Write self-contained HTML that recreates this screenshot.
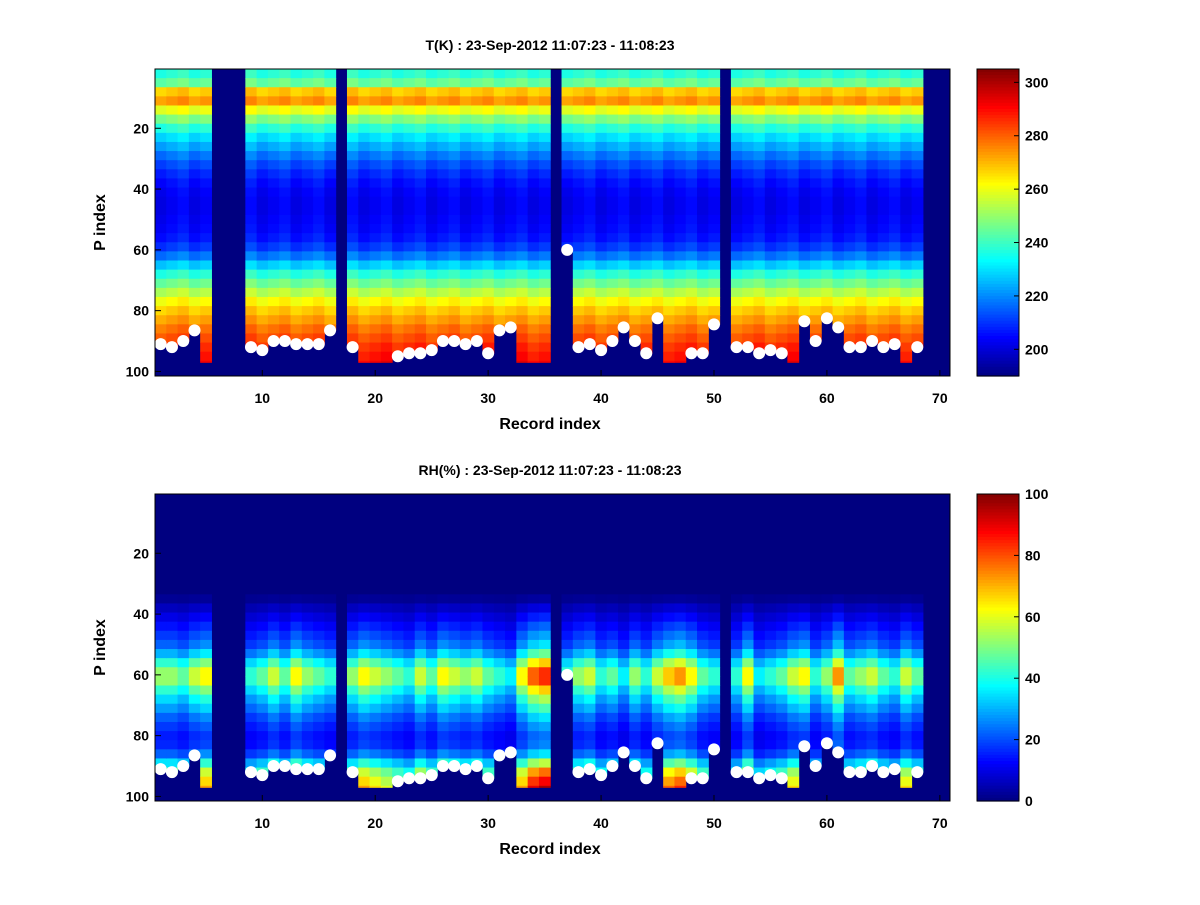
<!DOCTYPE html>
<html><head><meta charset="utf-8"><style>
body{margin:0;background:#fff;font-family:"Liberation Sans",sans-serif;}
svg text{font-family:"Liberation Sans",sans-serif;font-weight:bold;}
</style></head><body>
<svg id="fig" width="1200" height="900" xmlns="http://www.w3.org/2000/svg"></svg>
<script>
// ---- data ----
const records = Array.from({length:70},(_,i)=>i+1);
const missing = [6,7,8,17,36,51,69,70];
// surface P index (white dots); null = no dot, data to 97
const surface = [91,92,90,86.5,null,null,null,null,92,93,90,90,91,91,91,86.5,null,92,null,null,null,95,94,94,93,90,90,91,90,94,86.5,85.5,null,null,null,null,60,92,91,93,90,85.5,90,94,82.5,null,null,94,94,84.5,null,92,92,94,93,94,null,83.5,90,82.5,85.5,92,92,90,92,91,null,92,null,null];
const binTops = [0.5,3.5,6.5,9.5,12.5,15.5,18.5,21.5,24.5,27.5,30.5,33.5,36.5,39.5,42.5,45.5,48.5,51.5,54.5,57.5,60.5,63.5,66.5,69.5,72.5,75.5,78.5,81.5,84.5,87.5,90.5,93.5,96.5,99.5];
const tProfile = [238,245,268,274,260,248,238,230,224,218,213,209,206,204,203,203,204,205,207,211,218,228,238,246,254,262,268,273,278,282,286,289,292,294];
const rhProfile = [0,0,0,0,0,0,0,0,0,0,0,2,6,10,14,18,22,30,42,52,52,42,34,28,22,18,15,16,22,35,48,55,60,60];
const rhFactor = [1.0,1.0,0.9,1.1,1.2,1,1,1,0.8,0.9,1.1,0.9,1.2,1.0,0.9,0.8,1,1.0,1.2,1.1,1.0,0.9,0.8,1.1,0.9,1.2,1.1,1.0,1.1,0.9,0.8,0.7,1.2,1.5,1.6,1,0.8,1.0,1.1,0.8,0.9,0.7,1.0,0.8,1.1,1.3,1.4,1.2,0.9,0.8,1,0.8,1.2,0.7,0.8,0.9,1.1,1.2,0.8,1.0,1.4,0.9,1.0,1.1,0.9,0.8,1.1,0.9,1,1.0];
const xTicks = [10,20,30,40,50,60,70];
const yTicks = [20,40,60,80,100];
const tTicks = [200,220,240,260,280,300];
const rhTicks = [0,20,40,60,80,100];

const NS="http://www.w3.org/2000/svg", svg=document.getElementById('fig');
function el(t,a,p){const e=document.createElementNS(NS,t);for(const k in a)e.setAttribute(k,a[k]);(p||svg).appendChild(e);return e;}
function jet(v){v=Math.max(0,Math.min(1,v));
 const r=Math.max(0,Math.min(1,1.5-Math.abs(4*v-3))),g=Math.max(0,Math.min(1,1.5-Math.abs(4*v-2))),b=Math.max(0,Math.min(1,1.5-Math.abs(4*v-1)));
 return `rgb(${Math.round(r*255)},${Math.round(g*255)},${Math.round(b*255)})`;}

function panel(top,title,cmin,cmax,valFn,cTicks,name){
 const L=155,R=950,T=top,B=top+307;
 const xs=x=>L+(x-0.5)/(70.9-0.5)*(R-L), ys=p=>T+(p-0.5)/(101.5-0.5)*(B-T);
 const g=el('g',{});
 el('rect',{x:L,y:T,width:R-L,height:B-T,fill:jet(0)},g);
 records.forEach((r,ci)=>{
  if(missing.includes(r))return;
  const surf=surface[ci]==null?97:surface[ci];
  binTops.forEach((bt,bi)=>{
   const bb=bi+1<binTops.length?binTops[bi+1]:101.5; if(bt>=surf)return; const end=Math.min(bb,surf);
   const v=(valFn(ci,bi)-cmin)/(cmax-cmin);
   const c=el('rect',{x:xs(r-0.5),y:ys(bt),width:xs(r+0.5)-xs(r-0.5)+0.5,height:ys(end)-ys(bt)+0.5,fill:jet(v)},g);
   
  });
 });
 records.forEach((r,ci)=>{ if(surface[ci]==null)return;
  const d=el('circle',{cx:xs(r),cy:ys(surface[ci]),r:6,fill:'#fff'},g);
  });
 el('rect',{x:L,y:T,width:R-L,height:B-T,fill:'none',stroke:'#000'},g);
 xTicks.forEach(t=>{const x=xs(t);el('line',{x1:x,x2:x,y1:B,y2:B-6,stroke:'#000'},g);
  const tx=el('text',{x:x,y:B+27,'text-anchor':'middle','font-size':14},g);tx.textContent=t;});
 yTicks.forEach(t=>{const y=ys(t);el('line',{x1:L,x2:L+6,y1:y,y2:y,stroke:'#000'},g);
  const tx=el('text',{x:L-6,y:y+5,'text-anchor':'end','font-size':14},g);tx.textContent=t;});
 const ti=el('text',{x:550,y:T-19,'text-anchor':'middle','font-size':14},g);ti.textContent=title;
 const xl=el('text',{x:550,y:B+53,'text-anchor':'middle','font-size':16},g);xl.textContent='Record index';
 const yl=el('text',{x:105,y:(T+B)/2,'text-anchor':'middle','font-size':16,transform:`rotate(-90 105 ${(T+B)/2})`},g);yl.textContent='P index';
 const CL=977,CR=1019;
 for(let i=0;i<100;i++){const y0=T+(B-T)*i/100;el('rect',{x:CL,y:y0,width:CR-CL,height:(B-T)/100+0.6,fill:jet(1-(i+0.5)/100)},g);}
 el('rect',{x:CL,y:T,width:CR-CL,height:B-T,fill:'none',stroke:'#000'},g);
 cTicks.forEach(t=>{const y=B-(t-cmin)/(cmax-cmin)*(B-T);el('line',{x1:CR,x2:CR-5,y1:y,y2:y,stroke:'#000'},g);
  const tx=el('text',{x:CR+6,y:y+5,'font-size':14},g);tx.textContent=t;});
}
panel(69,'T(K) : 23-Sep-2012 11:07:23 - 11:08:23',190,305,(ci,bi)=>tProfile[bi]+((ci%3)-1)*2,tTicks,'temperature');
panel(494,'RH(%) : 23-Sep-2012 11:07:23 - 11:08:23',0,100,(ci,bi)=>rhProfile[bi]*rhFactor[ci],rhTicks,'humidity');
</script>
</body></html>
